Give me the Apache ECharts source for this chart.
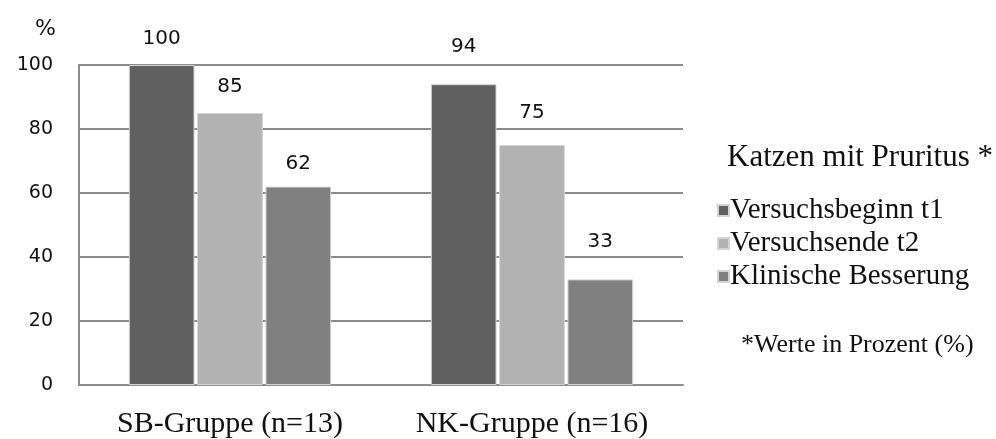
<!DOCTYPE html>
<html>
<head>
<meta charset="utf-8">
<script src="https://cdn.jsdelivr.net/npm/echarts@6/dist/echarts.min.js"></script>
<style>
  html, body { margin: 0; padding: 0; background: #fff; }
  #chart { width: 996px; height: 439px; }
</style>
</head>
<body>
<div id="chart"></div>
<script>
// Groups and the three measured shares (percent of cats with pruritus)
const categories = ['SB-Gruppe (n=13)', 'NK-Gruppe (n=16)'];
const seriesNames = ['Versuchsbeginn t1', 'Versuchsende t2', 'Klinische Besserung'];
const beginValues = [100, 94];
const endValues = [85, 75];
const improvedValues = [62, 33];
const yTicks = [0, 20, 40, 60, 80, 100];

const colors = ['#606060', '#b2b2b2', '#808080'];
const valueSets = [beginValues, endValues, improvedValues];
// gap (px) between each bar top and its value label, per series / group
const labelGaps = [[16, 27], [16, 22], [13, 28]];

const chart = echarts.init(document.getElementById('chart'));

const series = valueSets.map((vals, i) => ({
  name: seriesNames[i],
  type: 'bar',
  barGap: '4%',
  barCategoryGap: '33%',
  itemStyle: { color: colors[i], borderColor: '#d4d4d4', borderWidth: 1 },
  data: vals.map((v, j) => ({
    value: v,
    label: { distance: labelGaps[i][j] }
  })),
  label: {
    show: true,
    position: 'top',
    color: '#111',
    fontFamily: 'DejaVu Sans',
    fontSize: 20
  }
}));

chart.setOption({
  animation: false,
  color: colors,
  grid: { left: 79, right: 313, top: 65, bottom: 53, containLabel: false },
  title: [
    {
      text: 'Katzen mit Pruritus *',
      left: 722, top: 137,
      textStyle: { fontFamily: 'Liberation Serif', fontSize: 31, fontWeight: 'normal', color: '#111' }
    },
    {
      text: '*Werte in Prozent (%)',
      left: 736, top: 327,
      textStyle: { fontFamily: 'Liberation Serif', fontSize: 26, fontWeight: 'normal', color: '#111' }
    },
    {
      text: '%',
      left: 30, top: 13,
      textStyle: { fontFamily: 'DejaVu Sans', fontSize: 22, fontWeight: 'normal', color: '#111' }
    }
  ],
  legend: {
    orient: 'vertical',
    left: 712, top: 191,
    itemWidth: 11, itemHeight: 11,
    itemGap: 4,
    icon: 'rect',
    textStyle: { fontFamily: 'Liberation Serif', fontSize: 29, color: '#111', padding: [0, 0, 0, -4] },
    data: seriesNames
  },
  xAxis: {
    type: 'category',
    data: categories,
    axisLine: { lineStyle: { color: '#8c8c8c', width: 2 } },
    axisTick: { show: false },
    axisLabel: { interval: 0, hideOverlap: false, fontFamily: 'Liberation Serif', fontSize: 30, color: '#111', margin: 24 }
  },
  yAxis: {
    type: 'value',
    min: yTicks[0],
    max: yTicks[yTicks.length - 1],
    interval: yTicks[1] - yTicks[0],
    axisLine: { show: true, lineStyle: { color: '#8c8c8c', width: 2 } },
    axisTick: { show: false },
    splitLine: { lineStyle: { color: '#8c8c8c', width: 2 } },
    axisLabel: { fontFamily: 'DejaVu Sans', fontSize: 19, color: '#111', margin: 26 }
  },
  series: series
});
</script>
</body>
</html>
